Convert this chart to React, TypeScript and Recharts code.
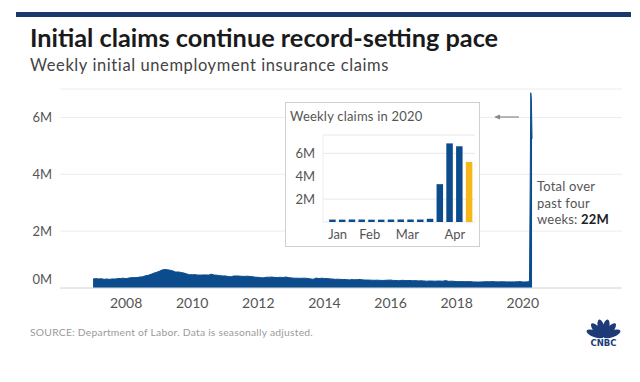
import { AreaChart, Area, BarChart, Bar, Cell, XAxis, YAxis, CartesianGrid } from "recharts"

// monthly initial claims, thousands, Jan 2007 - Feb 2020
const monthlyClaims = [
  315, 330, 320, 325, 305, 315, 305, 320, 315, 330, 335, 345,
  330, 350, 365, 365, 370, 385, 395, 430, 445, 480, 520, 550,
  585, 630, 655, 640, 625, 600, 560, 565, 545, 525, 495, 470,
  465, 470, 455, 455, 460, 460, 455, 485, 455, 450, 435, 425,
  425, 405, 395, 420, 425, 420, 410, 410, 415, 405, 395, 380,
  375, 360, 360, 380, 380, 385, 370, 370, 375, 370, 385, 365,
  355, 345, 345, 340, 345, 345, 335, 320, 310, 350, 330, 345,
  335, 335, 320, 315, 305, 310, 300, 300, 295, 285, 295, 290,
  295, 300, 285, 280, 280, 275, 270, 275, 270, 265, 270, 275,
  280, 265, 265, 255, 270, 265, 260, 265, 255, 260, 250, 255,
  250, 240, 245, 245, 240, 245, 245, 240, 260, 235, 240, 235,
  225, 225, 225, 220, 225, 225, 215, 210, 210, 215, 220, 220,
  220, 225, 220, 215, 220, 220, 215, 215, 215, 215, 220, 225,
  210, 215,
]
const startYear = 2007

// weekly claims 2020 (week ending), thousands
const weekDays2020 = [4, 11, 18, 25, 32, 39, 46, 53, 60, 67, 74, 81, 88, 95, 102]
const weekly2020 = [214, 207, 220, 215, 203, 204, 215, 220, 217, 216, 282, 3307, 6867, 6615, 5245]

const yearTicks = [2008, 2010, 2012, 2014, 2016, 2018, 2020]
const claimTicks = [0, 2000, 4000, 6000]
const insetTicks = [2000, 4000, 6000]
const monthTickDays = [8, 31, 58, 92]
const monthLabels = ["Jan", "Feb", "Mar", "Apr"]

const NAVY = "#0c4c8c"
const YELLOW = "#f6b71b"
const FONT = "Lato, 'Open Sans', sans-serif"

const mainData = [
  ...monthlyClaims.map((v, i) => ({ x: startYear + i / 12, claims: v })),
  ...weekDays2020.slice(9).map((d, i) => ({ x: 2020 + d / 366, claims: weekly2020[i + 9] })),
]

const insetData = weekDays2020.map((d, i) => ({ day: d, claims: weekly2020[i] }))

const fmtM = (v: number) => `${v / 1000}M`

function MainYTick(props: any) {
  const { x, y, payload } = props
  const shift = payload.value === 0 ? -9 : 0
  return (
    <text x={x} y={y + shift} dy="0.355em" textAnchor="end" fill="#555" fontSize={13} fontFamily={FONT}>
      {fmtM(payload.value)}
    </text>
  )
}

function CnbcLogo({ x, y }: { x: number; y: number }) {
  const angles = [-70, -42, -14, 14, 42, 70]
  return (
    <g transform={`translate(${x},${y})`}>
      {angles.map((a) => (
        <ellipse key={a} cx={0} cy={-9} rx={3.4} ry={9} fill="#1c3b78" transform={`translate(18.5,22) rotate(${a})`} />
      ))}
      <text x={18.5} y={31} textAnchor="middle" fontSize={8.5} fontWeight={900} fill="#1c3b78" fontFamily="'DejaVu Sans', sans-serif">
        CNBC
      </text>
    </g>
  )
}

export default function App() {
  return (
    <div style={{ position: "relative", width: 640, height: 382, background: "#fff", fontFamily: FONT }}>
      <style>{`body{margin:0}`}</style>
      <div style={{ position: "absolute", left: 16, top: 12, width: 615, height: 5, background: "#19396c" }} />

      <div style={{ position: "absolute", left: 0, top: 0 }}>
        <AreaChart width={640} height={382} data={mainData} margin={{ top: 89, right: 18, bottom: 64, left: 0 }}>
          <CartesianGrid vertical={false} stroke="#ececec" />
          <XAxis
            type="number"
            dataKey="x"
            domain={[2006, 2023]}
            ticks={yearTicks}
            tickLine={false}
            axisLine={{ stroke: "#dcdcdc" }}
            tick={{ fill: "#555", fontSize: 14, fontFamily: FONT }}
            tickMargin={4}
            height={30}
          />
          <YAxis
            width={60}
            domain={[0, 7000]}
            ticks={claimTicks}
            tickLine={false}
            axisLine={false}
            tick={<MainYTick />}
          />
          <Area
            type="linear"
            dataKey="claims"
            stroke={NAVY}
            strokeWidth={1}
            fill={NAVY}
            fillOpacity={1}
            isAnimationActive={false}
          />
        </AreaChart>
      </div>

      <div
        style={{
          position: "absolute",
          left: 285,
          top: 102,
          width: 195,
          height: 145,
          boxSizing: "border-box",
          border: "1px solid #d0d0d0",
          background: "#fff",
        }}
      />
      <div style={{ position: "absolute", left: 285, top: 102 }}>
        <BarChart width={195} height={145} data={insetData} margin={{ top: 33, right: 5, bottom: 0, left: 0 }}>
          <CartesianGrid vertical={false} stroke="#e8e8e8" />
          <XAxis
            type="number"
            dataKey="day"
            domain={[-2.5, 106.5]}
            ticks={monthTickDays}
            tickFormatter={(d: number) => monthLabels[monthTickDays.indexOf(d)]}
            tickLine={false}
            axisLine={false}
            tick={{ fill: "#555", fontSize: 13, fontFamily: FONT }}
            tickMargin={2}
            height={25}
          />
          <YAxis
            width={38}
            domain={[0, 7600]}
            ticks={insetTicks}
            tickFormatter={fmtM}
            tickLine={false}
            axisLine={{ stroke: "#eeeeee" }}
            tick={{ fill: "#555", fontSize: 13, fontFamily: FONT }}
          />
          <Bar dataKey="claims" barSize={6.5} isAnimationActive={false}>
            {insetData.map((_, i) => (
              <Cell key={i} fill={i === insetData.length - 1 ? YELLOW : NAVY} />
            ))}
          </Bar>
        </BarChart>
      </div>

      <svg width={640} height={382} style={{ position: "absolute", left: 0, top: 0, pointerEvents: "none" }}>
        <text x={30} y={47} fontSize={25.3} fontWeight={700} fill="#1a1a1a" fontFamily={FONT}>
          Initial claims continue record-setting pace
        </text>
        <text x={30} y={71} fontSize={16.5} letterSpacing={0.6} fill="#444" fontFamily={FONT}>
          Weekly initial unemployment insurance claims
        </text>
        <text x={290} y={121} fontSize={13} letterSpacing={0.2} fill="#555" fontFamily={FONT}>
          Weekly claims in 2020
        </text>
        <line x1={519} y1={117} x2={497} y2={117} stroke="#888" strokeWidth={1.2} />
        <path d="M494,117 L500,114.5 L500,119.5 Z" fill="#888" />
        <text fontSize={13} letterSpacing={0.2} fill="#555" fontFamily={FONT}>
          <tspan x={537} y={191}>Total over</tspan>
          <tspan x={537} y={207.5}>past four</tspan>
          <tspan x={537} y={224}>
            weeks: <tspan fontWeight={700} fill="#222">22M</tspan>
          </tspan>
        </text>
        <text x={30} y={336} fontSize={10.3} letterSpacing={0.25} fill="#9a9a9a" fontFamily={FONT}>
          SOURCE: Department of Labor. Data is seasonally adjusted.
        </text>
        <CnbcLogo x={585} y={315} />
      </svg>
    </div>
  )
}
